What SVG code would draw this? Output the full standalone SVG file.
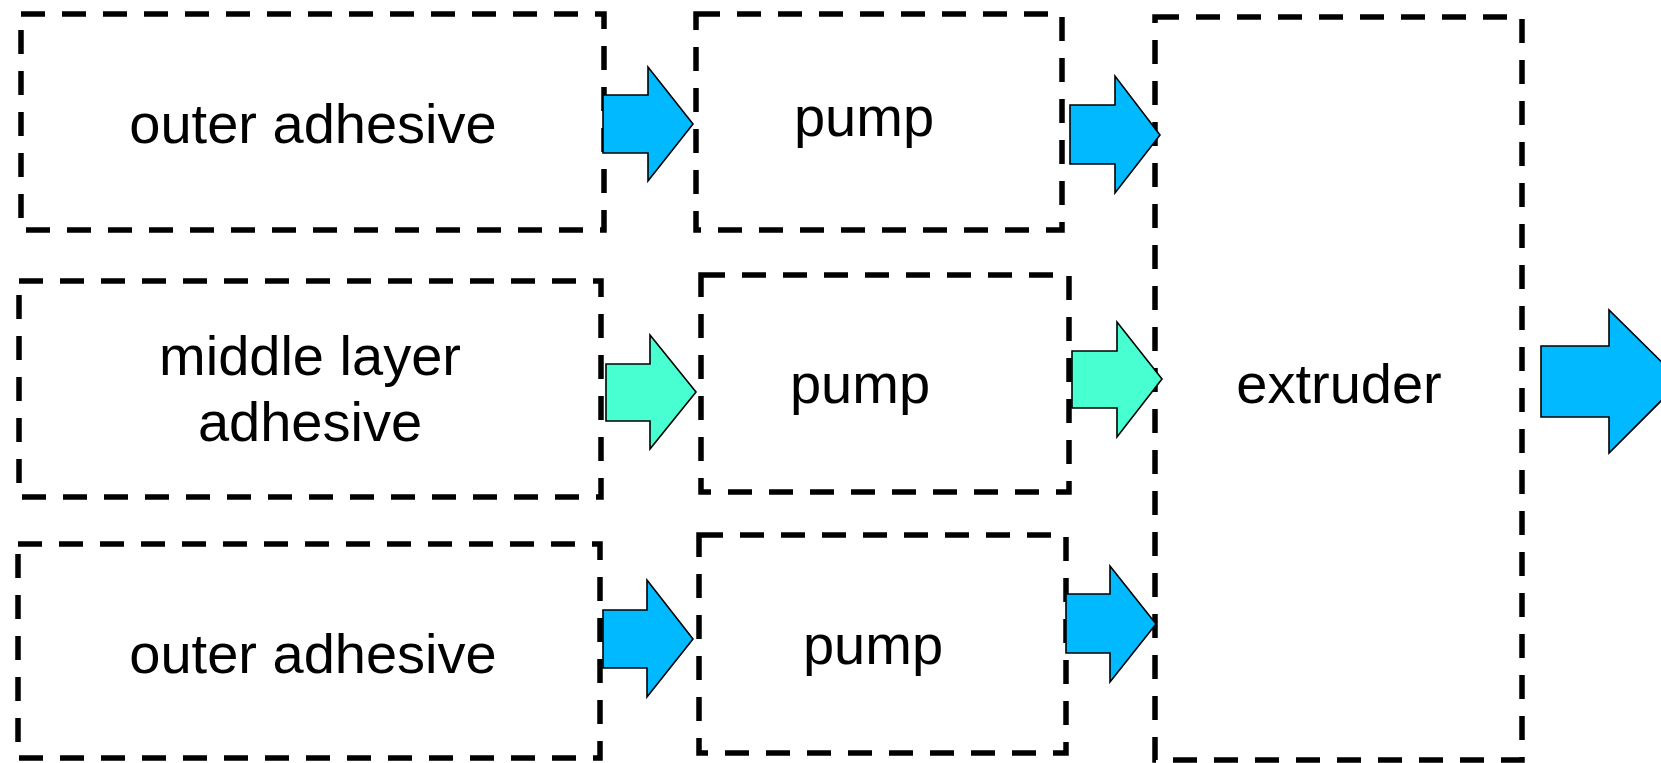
<svg xmlns="http://www.w3.org/2000/svg" width="1661" height="763" viewBox="0 0 1661 763">
  <style>
    .box { fill: none; stroke: #000; stroke-width: 5.5; stroke-dasharray: 24 17; stroke-linejoin: miter; }
    .label { font-family: "Liberation Sans", Arial, sans-serif; font-size: 56px; fill: #000; text-anchor: middle; }
    .blue { fill: #00B9FF; stroke: #000; stroke-width: 1.6; stroke-linejoin: miter; }
    .green { fill: #48FFD1; stroke: #000; stroke-width: 1.6; stroke-linejoin: miter; }
  </style>
  <rect width="1661" height="763" fill="#fff"/>

  <!-- source tanks -->
  <g id="outer-adhesive-top">
    <path class="box" d="M21,14 H604 V230 H21 Z"/>
    <text class="label" x="313" y="143">outer adhesive</text>
  </g>
  <g id="middle-layer-adhesive">
    <path class="box" d="M19,281 H601 V497 H19 Z"/>
    <text class="label" x="310" y="375">middle layer</text>
    <text class="label" x="310" y="441">adhesive</text>
  </g>
  <g id="outer-adhesive-bottom">
    <path class="box" d="M18,544 H600 V758 H18 Z"/>
    <text class="label" x="313" y="673">outer adhesive</text>
  </g>

  <!-- pumps -->
  <g id="pump-top">
    <path class="box" d="M696,14 H1062 V230 H696 Z"/>
    <text class="label" x="864" y="136">pump</text>
  </g>
  <g id="pump-middle">
    <path class="box" d="M701,275 H1069 V492 H701 Z"/>
    <text class="label" x="860" y="403">pump</text>
  </g>
  <g id="pump-bottom">
    <path class="box" d="M699,535 H1066 V753 H699 Z"/>
    <text class="label" x="873" y="664">pump</text>
  </g>

  <!-- extruder -->
  <g id="extruder">
    <path class="box" d="M1155,17 H1522 V760 H1155 Z"/>
    <text class="label" x="1339" y="403">extruder</text>
  </g>

  <!-- block arrows between stages -->
  <g id="connectors">
    <polygon class="blue" points="603,95 648,95 648,67 693,124 648,181 648,153 603,153"/>
    <polygon class="green" points="606,364 650,364 650,335 696,392 650,449 650,421 606,421"/>
    <polygon class="blue" points="603,610 647,610 647,580 693,639 647,697 647,668 603,668"/>
    <polygon class="blue" points="1070,105 1115,105 1115,76 1160,135 1115,193 1115,164 1070,164"/>
    <polygon class="green" points="1072,351 1117,351 1117,322 1162,379 1117,437 1117,408 1072,408"/>
    <polygon class="blue" points="1066,594 1110,594 1110,566 1156,624 1110,682 1110,653 1066,653"/>
    <polygon class="blue" points="1541,346 1609,346 1609,310 1681,381 1609,453 1609,417 1541,417"/>
  </g>
</svg>
